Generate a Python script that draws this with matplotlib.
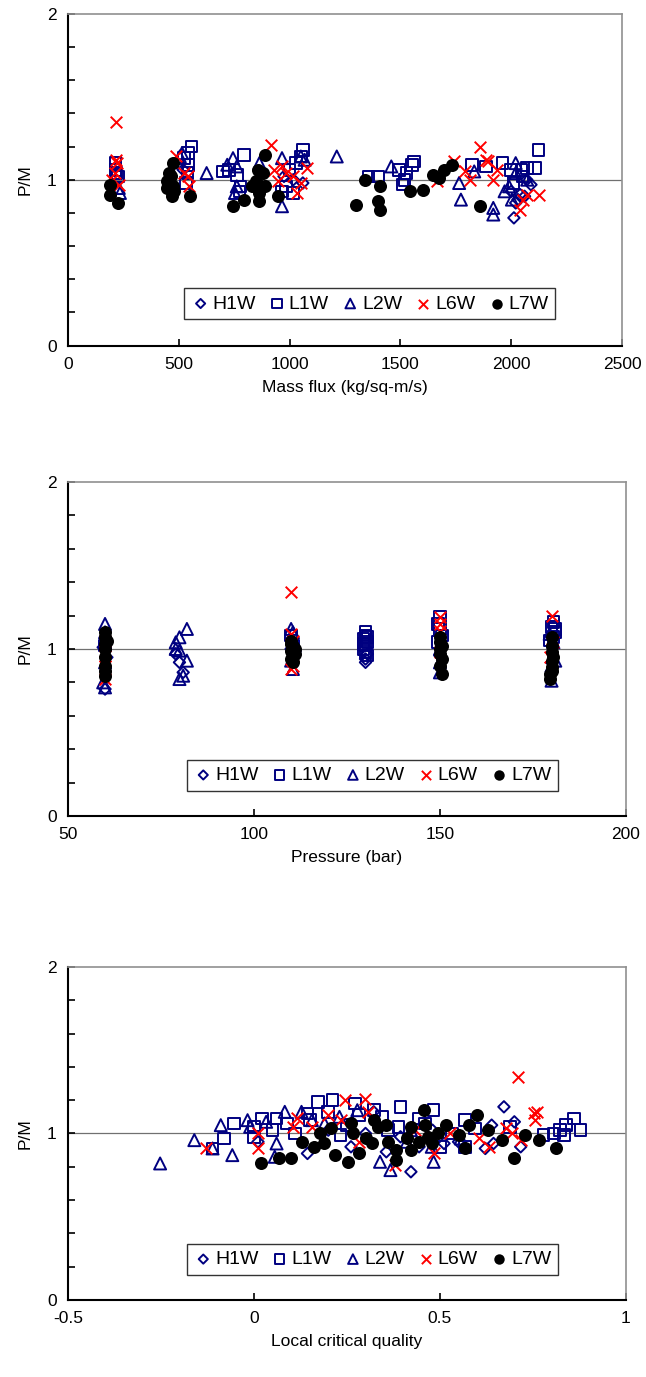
import matplotlib.pyplot as plt
from matplotlib.ticker import MultipleLocator

plt.rcParams['font.family'] = ['Liberation Sans', 'DejaVu Sans']

names = ["H1W", "L1W", "L2W", "L6W", "L7W"]

# ---- panel 1: mass flux ----
g_h1w = [2012, 2020, 2040, 2089, 2060, 2030, 1060, 1017, 520, 975, 2000, 2070]
pm_h1w_g = [0.77, 0.86, 0.91, 0.97, 0.90, 0.88, 0.98, 1.00, 1.06, 1.02, 0.93, 1.00]
g_l1w = [215, 215, 225, 220, 558, 541, 524, 545, 540, 532, 796, 728, 762, 779, 775, 700,
         1060, 1051, 1030, 1000, 983, 966, 1017, 1357, 1400, 1493, 1518, 1527, 1552, 1561, 1510,
         1824, 1885, 1961, 2000, 2046, 2072, 2106, 2123, 2010, 2050]
pm_l1w_g = [1.10, 1.06, 1.02, 1.04, 1.20, 1.16, 1.13, 1.09, 1.04, 0.98, 1.15, 1.06, 1.03, 0.96, 0.93, 1.05,
            1.18, 1.14, 1.10, 1.06, 0.96, 0.93, 0.92, 1.02, 1.02, 1.06, 1.00, 1.04, 1.09, 1.11, 0.97,
            1.09, 1.08, 1.10, 1.06, 1.06, 1.07, 1.07, 1.18, 0.98, 1.02]
g_l2w = [235, 230, 515, 505, 626, 719, 745, 762, 762, 754, 864, 966, 966, 1051, 1068,
         1213, 1459, 1765, 1773, 1833, 1919, 1919, 1970, 2020, 2020, 2072, 2003, 1990]
pm_l2w_g = [0.92, 0.95, 1.16, 1.14, 1.04, 1.09, 1.13, 1.08, 0.96, 0.92, 1.10, 0.84, 1.13, 1.14, 1.12,
            1.14, 1.08, 0.98, 0.88, 1.05, 0.83, 0.79, 0.93, 1.10, 1.04, 1.00, 0.88, 0.96]
g_l6w = [218, 218, 220, 200, 230, 215, 490, 524, 540, 545, 915, 932, 966, 983, 949, 1034, 1051,
         1077, 1017, 1859, 1885, 1893, 1791, 1816, 1919, 1936, 1740, 1663, 2038, 2072, 2123, 2055]
pm_l6w_g = [1.35, 1.12, 1.10, 1.00, 0.97, 1.04, 1.14, 1.04, 1.02, 0.96, 1.21, 1.06, 1.08, 1.04, 0.99,
            0.92, 0.98, 1.07, 1.02, 1.20, 1.12, 1.11, 1.05, 1.00, 1.00, 1.06, 1.11, 0.99, 0.82, 0.91,
            0.91, 0.88]
g_l7w = [192, 192, 226, 473, 456, 447, 447, 473, 480, 469, 549, 465, 745, 796, 864, 890, 856, 881,
         830, 864, 890, 949, 847, 1298, 1340, 1408, 1400, 1408, 1544, 1604, 1646, 1672, 1697, 1731,
         1859]
pm_l7w_g = [0.97, 0.91, 0.86, 1.10, 1.04, 0.99, 0.95, 0.96, 0.93, 0.90, 0.90, 1.02, 0.84, 0.88, 0.87,
            1.15, 1.06, 1.04, 0.96, 0.92, 0.96, 0.90, 0.99, 0.85, 1.00, 0.96, 0.87, 0.82, 0.93, 0.94,
            1.03, 1.01, 1.06, 1.09, 0.84]

# ---- panel 2: pressure ----
p_h1w = [59.5, 60, 60.5, 79, 80, 81, 110, 110.5, 130, 130, 130.5, 150, 180]
pm_h1w_p = [1.01, 0.76, 0.95, 0.97, 0.92, 0.86, 1.00, 0.95, 0.92, 0.94, 0.97, 0.96, 0.92]
p_l1w = [60, 110, 110.5, 130, 130, 129.5, 130.5, 130, 129.5, 130, 130.5, 130.5, 129.5,
         150, 149.5, 150, 150.5, 149.5,
         180.5, 180, 181, 180.5, 179.5, 181]
pm_l1w_p = [1.02, 1.08, 1.02, 1.10, 1.08, 1.06, 1.04, 1.02, 1.00, 0.98, 0.96, 1.07, 1.03,
            1.19, 1.15, 1.12, 1.08, 1.04,
            1.16, 1.13, 1.10, 1.07, 1.05, 1.12]
p_l2w = [60, 60, 60, 60, 60, 59.5, 82, 80, 79, 80, 82, 80, 81, 79, 110, 110.5, 110, 110.5, 111,
         150, 150, 150, 180, 179.5, 180, 180.5, 181]
pm_l2w_p = [1.15, 1.10, 0.92, 0.77, 1.05, 0.80, 1.12, 1.07, 1.04, 0.99, 0.93, 0.82, 0.84, 1.00,
            1.12, 1.10, 0.93, 0.88, 1.02, 0.86, 0.92, 1.00, 0.81, 1.09, 0.90, 1.04, 0.93]
p_l6w = [60, 60, 60, 60, 60, 110, 110, 110.5, 110, 110.5, 150, 150, 150, 150, 180, 179.5, 180, 180.5]
pm_l6w_p = [1.05, 0.99, 0.96, 0.90, 0.82, 1.34, 1.09, 1.05, 0.88, 0.90, 1.19, 1.15, 1.11, 0.98, 1.20,
            0.95, 1.00, 1.04]
p_l7w = [60, 60, 60, 60, 60, 60, 60, 60, 60.5,
         110, 110.5, 110, 110.5, 110, 110.5, 111, 110, 111,
         150, 150, 150, 150, 150.5, 150, 150.5, 150.5,
         180, 180, 180, 180, 180, 179.5, 179.5, 180.5, 180]
pm_l7w_p = [1.10, 1.07, 1.03, 1.00, 0.95, 0.90, 0.84, 0.87, 1.05,
            1.05, 1.02, 0.99, 0.96, 0.94, 0.92, 1.00, 1.03, 0.97,
            1.07, 1.04, 1.00, 0.97, 0.94, 0.90, 0.85, 1.02,
            1.07, 1.02, 0.98, 0.93, 0.89, 0.85, 0.82, 0.95, 0.87]

# ---- panel 3: local critical quality ----
x_h1w = [0.422, 0.672, 0.70, 0.717, 0.356, 0.261, 0.144, 0.011, 0.622, 0.639, 0.644, 0.511, 0.322,
         0.444, 0.394, 0.20, 0.30, 0.55, 0.48]
pm_h1w_x = [0.77, 1.16, 1.07, 0.92, 0.89, 0.92, 0.88, 0.95, 0.91, 1.05, 0.94, 0.94, 1.13,
            0.92, 0.98, 1.02, 1.00, 0.95, 1.02]
x_l1w = [-0.111, -0.08, -0.053, 0.0, 0.0, 0.022, 0.05, 0.061, 0.089, 0.111, 0.144, 0.172, 0.211,
         0.20, 0.233, 0.272, 0.283, 0.322, 0.344, 0.394, 0.389, 0.444, 0.483, 0.50, 0.533, 0.567,
         0.594, 0.567, 0.689, 0.778, 0.806, 0.822, 0.839, 0.861, 0.878, 0.833, 0.15, 0.25, 0.36,
         0.46]
pm_l1w_x = [0.91, 0.97, 1.06, 1.04, 0.98, 1.09, 1.02, 1.09, 1.06, 1.00, 1.12, 1.19, 1.20,
            1.13, 0.99, 1.18, 1.11, 1.14, 1.10, 1.16, 1.04, 1.09, 1.14, 0.92, 1.00, 1.08,
            1.03, 0.92, 1.04, 0.99, 1.00, 1.02, 1.05, 1.09, 1.02, 0.99, 1.08, 1.05, 1.02,
            1.06]
x_l2w = [-0.252, -0.16, -0.111, -0.089, -0.058, -0.017, -0.01, 0.033, 0.061, 0.056, 0.083, 0.128,
         0.156, 0.278, 0.339, 0.367, 0.411, 0.483, 0.478, 0.556, 0.422, 0.19, 0.23]
pm_l2w_x = [0.82, 0.96, 0.91, 1.05, 0.87, 1.08, 1.04, 1.07, 0.94, 0.86, 1.13, 1.13,
            1.08, 1.14, 0.83, 0.78, 0.95, 0.83, 0.92, 0.97, 1.02, 1.06, 1.10]
x_l6w = [-0.128, 0.011, 0.011, 0.106, 0.117, 0.156, 0.20, 0.244, 0.233, 0.298, 0.306, 0.283, 0.378,
         0.433, 0.483, 0.528, 0.606, 0.633, 0.678, 0.694, 0.709, 0.717, 0.753, 0.761, 0.756]
pm_l6w_x = [0.91, 1.00, 0.91, 1.04, 1.09, 1.04, 1.11, 1.20, 1.08, 1.21, 1.13, 0.95, 0.81,
            1.02, 0.88, 1.00, 0.97, 0.92, 1.03, 1.00, 1.34, 0.96, 1.12, 1.13, 1.08]
x_l7w = [0.018, 0.067, 0.10, 0.128, 0.161, 0.189, 0.178, 0.206, 0.217, 0.253, 0.261, 0.267, 0.283,
         0.30, 0.317, 0.322, 0.333, 0.356, 0.361, 0.383, 0.383, 0.411, 0.422, 0.422, 0.444, 0.456,
         0.461, 0.467, 0.478, 0.494, 0.517, 0.55, 0.567, 0.578, 0.60, 0.628, 0.667, 0.70, 0.728,
         0.767, 0.811]
pm_l7w_x = [0.82, 0.85, 0.85, 0.95, 0.92, 0.94, 1.00, 1.03, 0.87, 0.83, 1.06, 1.00, 0.88,
            0.97, 0.94, 1.08, 1.04, 1.05, 0.95, 0.90, 0.84, 0.97, 1.04, 0.90, 0.95, 1.14,
            1.05, 0.98, 0.94, 1.00, 1.05, 0.99, 0.91, 1.05, 1.11, 1.02, 0.96, 0.85, 0.99,
            0.96, 0.91]

navy = "#000080"
styles = [
    dict(marker="D", s=34, facecolors="none", edgecolors=navy, linewidths=1.4),
    dict(marker="s", s=70, facecolors="none", edgecolors=navy, linewidths=1.4),
    dict(marker="^", s=75, facecolors="none", edgecolors=navy, linewidths=1.4),
    dict(marker="x", s=70, c="#FF0000", linewidths=1.4),
    dict(marker="o", s=88, c="black", linewidths=0),
]

panels = [
    ([g_h1w, g_l1w, g_l2w, g_l6w, g_l7w],
     [pm_h1w_g, pm_l1w_g, pm_l2w_g, pm_l6w_g, pm_l7w_g],
     (0, 2500), 500, "Mass flux (kg/sq-m/s)", ["0", "500", "1000", "1500", "2000", "2500"],
     [0.105, 0.749, 0.858, 0.241], (0.208, 0.072, 0.673, 0.108)),
    ([p_h1w, p_l1w, p_l2w, p_l6w, p_l7w],
     [pm_h1w_p, pm_l1w_p, pm_l2w_p, pm_l6w_p, pm_l7w_p],
     (50, 200), 50, "Pressure (bar)", ["50", "100", "150", "200"],
     [0.105, 0.4074, 0.864, 0.2426], (0.213, 0.068, 0.665, 0.108)),
    ([x_h1w, x_l1w, x_l2w, x_l6w, x_l7w],
     [pm_h1w_x, pm_l1w_x, pm_l2w_x, pm_l6w_x, pm_l7w_x],
     (-0.5, 1), 0.5, "Local critical quality", ["-0.5", "0", "0.5", "1"],
     [0.105, 0.0559, 0.864, 0.2419], (0.213, 0.068, 0.665, 0.108)),
]

fig = plt.figure(figsize=(6.46, 13.77), dpi=100)

for xs, ys, xlim, step, xlabel, xtl, rect, lbox in panels:
    ax = fig.add_axes(rect)
    ax.axhline(1, color="#707070", lw=0.9, zorder=1)
    for x, y, st, nm in zip(xs, ys, styles, names):
        ax.scatter(x, y, label=nm, zorder=3, **st)
    ax.set_xlim(*xlim)
    ax.set_ylim(0, 2)
    ax.xaxis.set_major_locator(MultipleLocator(step))
    ax.set_xticks(ax.get_xticks()[(ax.get_xticks() >= xlim[0] - 1e-9) & (ax.get_xticks() <= xlim[1] + 1e-9)])
    ax.set_xticklabels(xtl)
    ax.set_yticks([0, 1, 2])
    ax.set_yticklabels(["0", "1", "2"])
    ax.yaxis.set_minor_locator(MultipleLocator(0.2))
    ax.tick_params(direction="in", length=5, width=1.2, labelsize=12.5, pad=8,
                   top=False, right=False)
    ax.tick_params(which="minor", direction="in", length=5, width=1.2, right=False)
    for side in ("left", "bottom"):
        ax.spines[side].set_linewidth(1.5)
        ax.spines[side].set_color("black")
    for side in ("top", "right"):
        ax.spines[side].set_linewidth(1.2)
        ax.spines[side].set_color("#909090")
    ax.set_xlabel(xlabel, fontsize=12.5, labelpad=6)
    ax.set_ylabel("P/M", fontsize=12.5, labelpad=10)
    leg = ax.legend(loc="center", bbox_to_anchor=lbox, ncol=5, fontsize=14,
                    frameon=True, fancybox=False, handletextpad=0.1, columnspacing=0.6,
                    handlelength=1.0, borderpad=0.35, scatterpoints=1, markerscale=0.8)
    leg.get_frame().set_edgecolor("black")
    leg.get_frame().set_linewidth(1.0)

fig.savefig("out.png", dpi=100)
